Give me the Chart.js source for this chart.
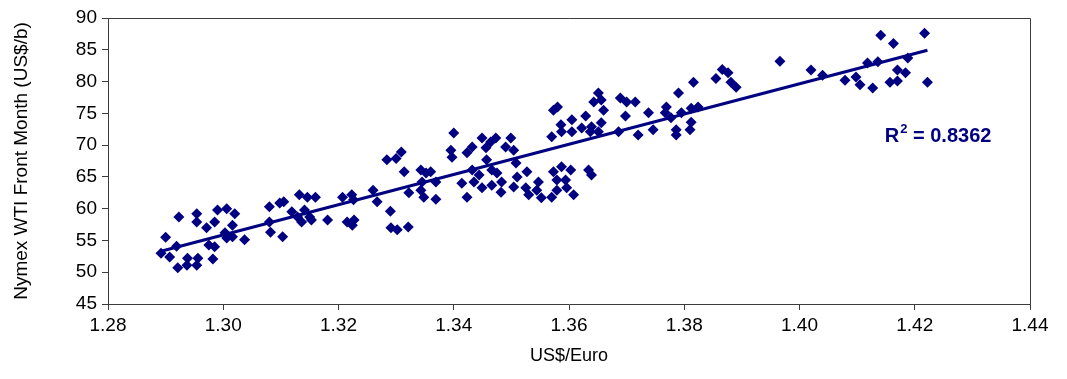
<!DOCTYPE html>
<html lang="en">
<head>
  <meta charset="UTF-8" />
  <title>WTI vs US$/Euro</title>
  <script src="https://cdn.jsdelivr.net/npm/chart.js"></script>
  <style>
    html, body { margin: 0; padding: 0; background: #fff; }
    #wrap { width: 1067px; height: 379px; }
  </style>
</head>
<body>
  <div id="wrap"><canvas id="scatter" width="1067" height="379"></canvas></div>

  <script>
    // US$/Euro (x) and Nymex WTI front month (y)
    const usdEuro = [
      1.2923, 1.2954, 1.2954, 1.2900, 1.2892, 1.2919, 1.2907, 1.2921, 1.2938, 1.2937,
      1.2954, 1.2956, 1.2971, 1.2985, 1.2990, 1.3006, 1.3020, 1.3016, 1.3003, 1.3006,
      1.3016, 1.2975, 1.2985, 1.2982, 1.3037, 1.3080, 1.3098, 1.3105, 1.3080, 1.3082,
      1.3103, 1.3119,
      1.3132, 1.3146, 1.3160, 1.3129, 1.3141, 1.3150, 1.3136, 1.3153, 1.3181, 1.3207,
      1.3223, 1.3226, 1.3215, 1.3227, 1.3224, 1.3260, 1.3267, 1.3290, 1.3291, 1.3302,
      1.3321, 1.3284, 1.3300, 1.3309, 1.3314, 1.3322, 1.3343, 1.3352, 1.3360, 1.3345,
      1.3369, 1.3343, 1.3348, 1.3369,
      1.3400, 1.3395, 1.3397, 1.3423, 1.3432, 1.3449, 1.3464, 1.3473, 1.3499, 1.3490,
      1.3504, 1.3456, 1.3457, 1.3432, 1.3444, 1.3466, 1.3475, 1.3414, 1.3435, 1.3449,
      1.3466, 1.3423, 1.3482, 1.3483, 1.3508, 1.3510, 1.3527, 1.3504, 1.3525, 1.3530,
      1.3547, 1.3544, 1.3552, 1.3570, 1.3573, 1.3587, 1.3603, 1.3579, 1.3594, 1.3579,
      1.3596, 1.3608, 1.3570, 1.3586, 1.3587, 1.3605, 1.3605, 1.3622, 1.3629, 1.3573,
      1.3580,
      1.3651, 1.3656, 1.3660, 1.3643, 1.3639, 1.3656, 1.3651, 1.3637, 1.3689, 1.3700,
      1.3715, 1.3698, 1.3686, 1.3720, 1.3738, 1.3746, 1.3769, 1.3767, 1.3777, 1.3786,
      1.3786, 1.3795, 1.3790, 1.3812, 1.3824, 1.3812, 1.3810, 1.3816, 1.3639, 1.3634,
      1.3855, 1.3866, 1.3876, 1.3881, 1.3890,
      1.3966, 1.4020, 1.4040, 1.4079, 1.4098, 1.4105, 1.4118, 1.4127, 1.4136, 1.4141,
      1.4163, 1.4217, 1.4188, 1.4170, 1.4184, 1.4157, 1.4170, 1.4222
    ];
    const wtiFront = [
      58.7, 59.2, 57.9, 55.5, 53.0, 54.1, 52.4, 50.7, 52.2, 51.1,
      51.1, 52.2, 57.0, 57.9, 59.8, 60.0, 59.2, 57.4, 56.2, 55.4,
      55.6, 54.3, 54.0, 52.1, 55.1, 60.3, 60.9, 61.1, 57.9, 56.3,
      55.6, 59.5,
      62.2, 61.8, 61.8, 58.7, 59.8, 58.7, 57.9, 58.2, 58.2, 61.8,
      62.2, 61.4, 57.9, 58.2, 57.4, 62.9, 61.1, 59.6, 57.0, 56.7,
      57.1, 67.7, 67.9, 68.9, 65.8, 62.5, 66.1, 65.6, 65.8, 64.2,
      64.2, 62.9, 61.8, 61.5,
      71.9, 69.2, 68.1, 68.8, 69.7, 71.1, 70.5, 71.1, 71.1, 69.7,
      69.2, 69.6, 67.7, 66.1, 65.3, 66.1, 65.6, 64.0, 64.2, 63.3,
      63.7, 61.8, 62.6, 64.2, 67.2, 65.0, 65.8, 63.4, 63.3, 62.2,
      64.2, 62.9, 61.7, 61.8, 65.8, 66.6, 66.1, 64.5, 64.5, 62.9,
      63.3, 62.2, 71.3, 73.2, 72.1, 74.0, 72.1, 72.7, 74.6, 75.5,
      76.0,
      78.2, 77.1, 75.5, 76.8, 72.9, 73.5, 72.1, 72.1, 77.4, 76.8,
      76.8, 74.6, 72.1, 71.6, 75.1, 72.4, 76.0, 75.1, 74.3, 72.4,
      71.6, 75.1, 78.2, 75.8, 76.0, 73.6, 72.4, 79.9, 65.3, 66.1,
      80.5, 81.9, 81.4, 79.9, 79.1,
      83.2, 81.8, 81.0, 80.2, 80.7, 79.5, 82.9, 79.0, 83.1, 87.3,
      86.0, 87.6, 83.7, 81.8, 81.4, 79.9, 80.1, 79.9
    ];
    const xTicks = [1.28, 1.30, 1.32, 1.34, 1.36, 1.38, 1.40, 1.42, 1.44];
    const yTicks = [45, 50, 55, 60, 65, 70, 75, 80, 85, 90];
    const rSquaredText = '0.8362';

    const navy = '#000080';
    const axisGrey = '#3c3c3c';
    const fontFamily = 'Arial, "Liberation Sans", sans-serif';

    // least squares trend line through the points
    function linearFit(xs, ys) {
      const n = xs.length;
      let sx = 0, sy = 0, sxx = 0, sxy = 0;
      for (let i = 0; i < n; i++) {
        sx += xs[i]; sy += ys[i];
        sxx += xs[i] * xs[i]; sxy += xs[i] * ys[i];
      }
      const slope = (n * sxy - sx * sy) / (n * sxx - sx * sx);
      const intercept = (sy - slope * sx) / n;
      return { slope, intercept };
    }

    const fit = linearFit(usdEuro, wtiFront);
    const xMin = Math.min(...usdEuro);
    const xMax = Math.max(...usdEuro);
    const trend = [xMin, xMax].map(x => ({ x: x, y: fit.slope * x + fit.intercept }));
    const points = usdEuro.map((x, i) => ({ x: x, y: wtiFront[i] }));

    // plot frame and the R² label
    const framePlugin = {
      id: 'frame',
      afterDraw(chart) {
        const { ctx, chartArea: a, scales } = chart;
        ctx.save();
        ctx.strokeStyle = axisGrey;
        ctx.lineWidth = 1;
        ctx.beginPath();
        ctx.moveTo(a.left, a.top + 0.5);
        ctx.lineTo(a.right + 0.5, a.top + 0.5);
        ctx.lineTo(a.right + 0.5, a.bottom);
        ctx.stroke();

        const tx = scales.x.getPixelForValue(1.4148);
        const ty = scales.y.getPixelForValue(70.5);
        ctx.fillStyle = navy;
        ctx.textBaseline = 'alphabetic';
        ctx.font = 'bold 20px ' + fontFamily;
        ctx.fillText('R', tx, ty);
        let w = ctx.measureText('R').width;
        ctx.font = 'bold 13px ' + fontFamily;
        ctx.fillText('2', tx + w + 1, ty - 9);
        w += ctx.measureText('2').width + 1;
        ctx.font = 'bold 20px ' + fontFamily;
        ctx.fillText(' = ' + rSquaredText, tx + w, ty);
        ctx.restore();
      }
    };

    new Chart(document.getElementById('scatter').getContext('2d'), {
      type: 'scatter',
      data: {
        datasets: [
          {
            label: 'WTI',
            data: points,
            pointStyle: 'rectRot',
            pointRadius: 5.5,
            pointBorderWidth: 0,
            backgroundColor: navy,
            borderColor: navy,
            order: 2
          },
          {
            label: 'Trend',
            type: 'line',
            data: trend,
            borderColor: navy,
            borderWidth: 3,
            pointRadius: 0,
            fill: false,
            order: 1
          }
        ]
      },
      options: {
        responsive: false,
        animation: false,
        layout: { padding: { left: 0, right: 37, top: 18, bottom: 0 } },
        plugins: {
          legend: { display: false },
          tooltip: { enabled: false }
        },
        scales: {
          x: {
            type: 'linear',
            min: xTicks[0],
            max: xTicks[xTicks.length - 1],
            afterBuildTicks: s => { s.ticks = xTicks.map(v => ({ value: v })); },
            afterFit: s => { s.height = 75; },
            grid: { display: true, drawOnChartArea: false, drawTicks: true, tickLength: 6, color: axisGrey },
            border: { display: true, color: axisGrey, width: 1 },
            ticks: {
              color: '#000',
              padding: 4,
              maxRotation: 0,
              font: { family: fontFamily, size: 19 },
              callback: v => v.toFixed(2)
            },
            title: {
              display: true,
              text: 'US$/Euro',
              color: '#000',
              font: { family: fontFamily, size: 18 },
              padding: { top: 0, bottom: 12 }
            }
          },
          y: {
            min: yTicks[0],
            max: yTicks[yTicks.length - 1],
            afterBuildTicks: s => { s.ticks = yTicks.map(v => ({ value: v })); },
            afterFit: s => { s.width = 108; },
            grid: { display: true, drawOnChartArea: false, drawTicks: true, tickLength: 6, color: axisGrey },
            border: { display: true, color: axisGrey, width: 1 },
            ticks: {
              color: '#000',
              padding: 5,
              font: { family: fontFamily, size: 19 }
            },
            title: {
              display: true,
              text: 'Nymex WTI Front Month (US$/b)',
              color: '#000',
              font: { family: fontFamily, size: 19 },
              padding: { top: 10, bottom: 0 }
            }
          }
        }
      },
      plugins: [framePlugin]
    });
  </script>
</body>
</html>
